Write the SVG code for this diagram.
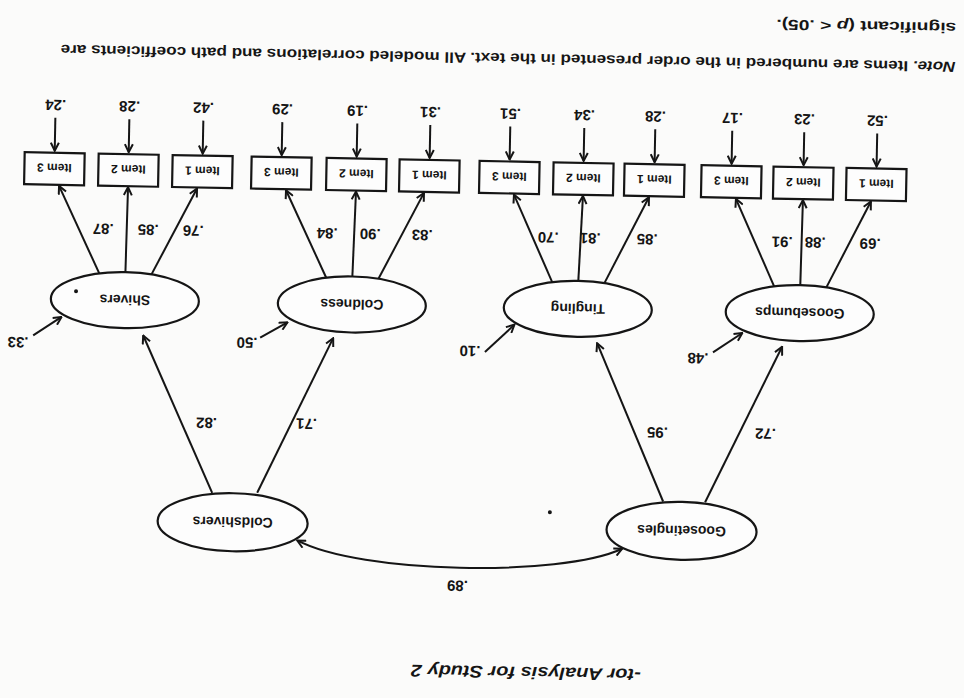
<svg xmlns="http://www.w3.org/2000/svg" width="964" height="698" viewBox="0 0 964 698">
<defs>
<marker id="ah" viewBox="0 0 10 10" refX="9" refY="5" markerWidth="10" markerHeight="10" markerUnits="userSpaceOnUse" orient="auto-start-reverse">
<path d="M1,1 L9,5 L1,9" fill="none" stroke="#151515" stroke-width="2"/>
</marker>
<style>
.bg{fill:#fbfbfa}
ellipse{fill:#fdfdfd;stroke:#151515;stroke-width:2.2}
rect.box{fill:#fdfdfd;stroke:#151515;stroke-width:2.2}
.ln{fill:none;stroke:#151515;stroke-width:2;marker-end:url(#ah)}
.cor{fill:none;stroke:#151515;stroke-width:2;marker-start:url(#ah);marker-end:url(#ah)}
text{font-family:"Liberation Sans",Arial,sans-serif;font-weight:bold;fill:#151515}
.lat{font-size:14px;text-anchor:middle}
.it{font-size:12px;text-anchor:middle}
.num{font-size:15px;text-anchor:middle}
.note{font-size:14.5px}
.cap{font-size:17px;font-style:italic}
</style>
</defs>
<rect class="bg" x="0" y="0" width="964" height="698"/>
<g transform="rotate(181.1 482 349)">
<g id="connectors">
<path class="cor" d="M338,152 C400,122 600,122 663,154"/>
<line class="ln" x1="749" y1="200" x2="821" y2="356"/>
<line class="ln" x1="704" y1="201" x2="631" y2="357"/>
<line class="ln" x1="298" y1="200" x2="367" y2="357"/>
<line class="ln" x1="256" y1="200" x2="182" y2="357"/>
<line class="ln" x1="931" y1="354" x2="903" y2="373"/>
<line class="ln" x1="704" y1="356" x2="677" y2="372"/>
<line class="ln" x1="479" y1="346" x2="450" y2="374"/>
<line class="ln" x1="251" y1="350" x2="222" y2="370"/>
<line class="ln" x1="139" y1="417" x2="96" y2="504"/>
<line class="ln" x1="165" y1="419" x2="164" y2="504"/>
<line class="ln" x1="191" y1="417" x2="231" y2="504"/>
<line class="ln" x1="361" y1="417" x2="318" y2="504"/>
<line class="ln" x1="387" y1="419" x2="384" y2="504"/>
<line class="ln" x1="413" y1="417" x2="453" y2="504"/>
<line class="ln" x1="587" y1="417" x2="543" y2="504"/>
<line class="ln" x1="613" y1="419" x2="611" y2="504"/>
<line class="ln" x1="639" y1="417" x2="681" y2="504"/>
<line class="ln" x1="814" y1="417" x2="770" y2="504"/>
<line class="ln" x1="840" y1="419" x2="839" y2="504"/>
<line class="ln" x1="866" y1="417" x2="908" y2="504"/>
<line class="ln" x1="91" y1="572" x2="91" y2="539"/>
<line class="ln" x1="164" y1="572" x2="164" y2="539"/>
<line class="ln" x1="236" y1="572" x2="236" y2="539"/>
<line class="ln" x1="313" y1="572" x2="313" y2="539"/>
<line class="ln" x1="384" y1="572" x2="384" y2="539"/>
<line class="ln" x1="458" y1="572" x2="458" y2="539"/>
<line class="ln" x1="538" y1="572" x2="538" y2="539"/>
<line class="ln" x1="611" y1="572" x2="611" y2="539"/>
<line class="ln" x1="686" y1="572" x2="686" y2="539"/>
<line class="ln" x1="765" y1="572" x2="765" y2="539"/>
<line class="ln" x1="839" y1="572" x2="839" y2="539"/>
<line class="ln" x1="913" y1="572" x2="913" y2="539"/>
</g>
<g id="goosetingles"><ellipse cx="279" cy="171" rx="75" ry="29"/><text class="lat" x="279" y="176">Goosetingles</text></g>
<g id="coldshivers"><ellipse cx="728" cy="171" rx="75" ry="29"/><text class="lat" x="728" y="176">Coldshivers</text></g>
<g id="goosebumps"><ellipse cx="165" cy="391" rx="74" ry="28"/><text class="lat" x="165" y="396">Goosebumps</text></g>
<g id="tingling"><ellipse cx="387" cy="391" rx="74" ry="28"/><text class="lat" x="387" y="396">Tingling</text></g>
<g id="coldness"><ellipse cx="613" cy="391" rx="74" ry="28"/><text class="lat" x="613" y="396">Coldness</text></g>
<g id="shivers"><ellipse cx="840" cy="391" rx="74" ry="28"/><text class="lat" x="840" y="396">Shivers</text><circle cx="889" cy="399" r="2" fill="#151515"/></g>
<g id="gb-item1"><rect class="box" x="61" y="505" width="60" height="32"/><text class="it" x="91" y="526">Item 1</text></g>
<g id="gb-item2"><rect class="box" x="134" y="505" width="60" height="32"/><text class="it" x="164" y="526">Item 2</text></g>
<g id="gb-item3"><rect class="box" x="206" y="505" width="60" height="32"/><text class="it" x="236" y="526">Item 3</text></g>
<g id="ti-item1"><rect class="box" x="283" y="505" width="60" height="32"/><text class="it" x="313" y="526">Item 1</text></g>
<g id="ti-item2"><rect class="box" x="354" y="505" width="60" height="32"/><text class="it" x="384" y="526">Item 2</text></g>
<g id="ti-item3"><rect class="box" x="428" y="505" width="60" height="32"/><text class="it" x="458" y="526">Item 3</text></g>
<g id="co-item1"><rect class="box" x="508" y="505" width="60" height="32"/><text class="it" x="538" y="526">Item 1</text></g>
<g id="co-item2"><rect class="box" x="581" y="505" width="60" height="32"/><text class="it" x="611" y="526">Item 2</text></g>
<g id="co-item3"><rect class="box" x="656" y="505" width="60" height="32"/><text class="it" x="686" y="526">Item 3</text></g>
<g id="sh-item1"><rect class="box" x="735" y="505" width="60" height="32"/><text class="it" x="765" y="526">Item 1</text></g>
<g id="sh-item2"><rect class="box" x="809" y="505" width="60" height="32"/><text class="it" x="839" y="526">Item 2</text></g>
<g id="sh-item3"><rect class="box" x="883" y="505" width="60" height="32"/><text class="it" x="913" y="526">Item 3</text></g>
<g id="labels">
<text class="num" x="502" y="117">.89</text>
<text class="num" x="756" y="275">.82</text>
<text class="num" x="656" y="276">.71</text>
<text class="num" x="305" y="274">.95</text>
<text class="num" x="197" y="275">.72</text>
<text class="num" x="946" y="352">.33</text>
<text class="num" x="717" y="356">.50</text>
<text class="num" x="494" y="352">.10</text>
<text class="num" x="266" y="349">.48</text>
<text class="num" x="96" y="467">.69</text>
<text class="num" x="151" y="467">.88</text>
<text class="num" x="184" y="467">.91</text>
<text class="num" x="319" y="467">.85</text>
<text class="num" x="376" y="467">.81</text>
<text class="num" x="418" y="467">.70</text>
<text class="num" x="544" y="467">.83</text>
<text class="num" x="596" y="467">.90</text>
<text class="num" x="639" y="467">.84</text>
<text class="num" x="773" y="467">.76</text>
<text class="num" x="818" y="467">.85</text>
<text class="num" x="863" y="467">.87</text>
<text class="num" x="91" y="590">.52</text>
<text class="num" x="164" y="590">.23</text>
<text class="num" x="236" y="590">.17</text>
<text class="num" x="313" y="590">.28</text>
<text class="num" x="384" y="590">.34</text>
<text class="num" x="458" y="590">.51</text>
<text class="num" x="538" y="590">.31</text>
<text class="num" x="611" y="590">.19</text>
<text class="num" x="686" y="590">.29</text>
<text class="num" x="765" y="590">.42</text>
<text class="num" x="839" y="590">.28</text>
<text class="num" x="913" y="590">.24</text>
</g>
<circle cx="411" cy="187" r="2" fill="#151515"/>
<text class="cap" x="317" y="32" textLength="230" lengthAdjust="spacingAndGlyphs">-tor Analysis for Study 2</text>
<text class="note" x="14" y="645" textLength="895" lengthAdjust="spacingAndGlyphs"><tspan font-style="italic">Note.</tspan> Items are numbered in the order presented in the text. All modeled correlations and path coefficients are</text>
<text class="note" x="14" y="684" textLength="180" lengthAdjust="spacingAndGlyphs">significant (<tspan font-style="italic">p</tspan> &lt; .05).</text>
</g>
</svg>
